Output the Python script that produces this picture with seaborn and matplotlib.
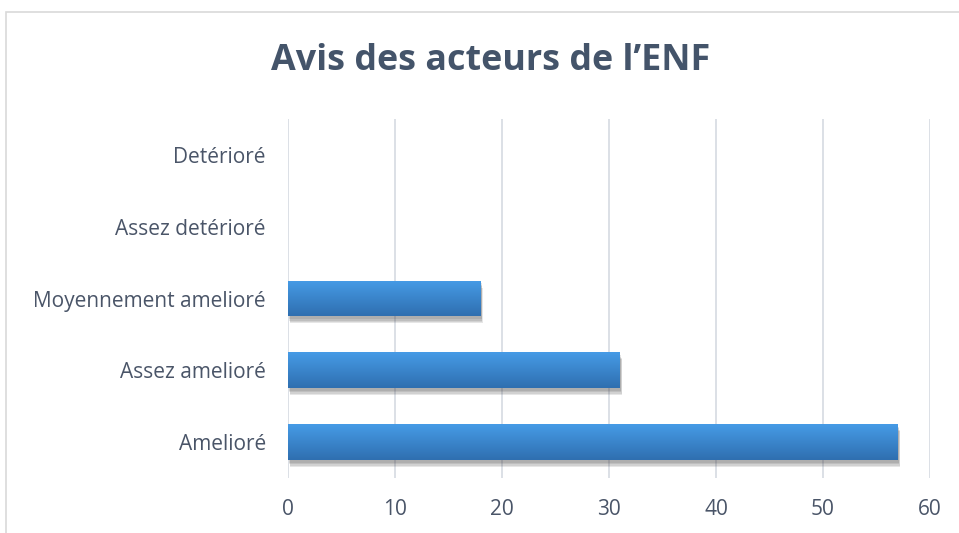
import numpy as np
import pandas as pd
import matplotlib
matplotlib.use("Agg")
import matplotlib.pyplot as plt
import matplotlib.patheffects as pe
from matplotlib.colors import LinearSegmentedColormap
from matplotlib.patches import Rectangle
import seaborn as sns

# données
categories = ["Detérioré", "Assez detérioré", "Moyennement amelioré", "Assez amelioré", "Amelioré"]
valeurs = [0, 0, 18, 31, 57]
graduations = [0, 10, 20, 30, 40, 50, 60]

df = pd.DataFrame({"Avis": categories, "Nombre": valeurs})

sns.set_theme(style="white")
plt.rcParams["font.family"] = ["Open Sans", "DejaVu Sans"]

fig = plt.figure(figsize=(9.59, 5.33), dpi=100)
ax = fig.add_axes([0.3003, 0.1032, 0.6695, 0.6735])

sns.barplot(data=df, x="Nombre", y="Avis", order=categories, color="#3A84CF",
            width=0.5, ax=ax, saturation=1, linewidth=0)

# dégradé bleu + ombre douce sous les barres
cmap = LinearSegmentedColormap.from_list("bleu", ["#469BE6", "#2F6FB0"])
grad = np.linspace(0, 1, 100).reshape(-1, 1)
ombre = [pe.SimplePatchShadow(offset=(k / 3, -k), alpha=0.13, shadow_rgbFace="#444444") for k in (2, 3, 4, 5)]
for p in ax.patches:
    if p.get_width() <= 0:
        continue
    p.set_edgecolor("none")
    p.set_path_effects(ombre + [pe.Normal()])
    x0, y0 = p.get_x(), p.get_y()
    w, h = p.get_width(), p.get_height()
    im = ax.imshow(grad, cmap=cmap, aspect="auto", extent=[x0, x0 + w, y0 + h, y0], zorder=3)
    im.set_clip_path(p)

ax.set_xlim(0, 60)
ax.set_ylim(4.5, -0.5)
ax.set_xticks(graduations)
ax.grid(axis="x", color="#D9DDE4", linewidth=1.3)
ax.set_axisbelow(True)
for s in ax.spines.values():
    s.set_visible(False)
ax.tick_params(axis="both", length=0, labelsize=15, colors="#4A5568")
ax.tick_params(axis="x", pad=15)
ax.tick_params(axis="y", pad=16)
ax.set_xlabel("")
ax.set_ylabel("")

fig.text(0.512, 0.886, "Avis des acteurs de l’ENF", ha="center", va="center",
         fontsize=25.8, fontweight="bold", color="#44546A")

# cadre du graphique
fig.patches.append(Rectangle((6, -100), 1000, 621, transform=None, fill=False,
                             edgecolor="#D9D9D9", linewidth=1.2))

fig.savefig("out.png", dpi=100)
